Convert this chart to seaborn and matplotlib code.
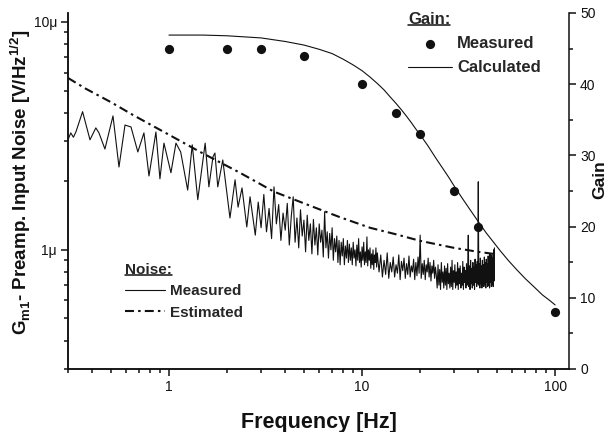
#!/usr/bin/env python3
# Gm1 preamp input noise (left, log) and gain (right, linear) vs frequency

import numpy as np
import pandas as pd
import seaborn as sns
import matplotlib.pyplot as plt
from matplotlib.lines import Line2D
from matplotlib.ticker import FuncFormatter, NullFormatter, MultipleLocator, LogLocator

# --- measured noise spectrum [uV/Hz^1/2] ---
# low-frequency part: turning points
NOISE_LOW_F = [0.30, 0.31, 0.32, 0.33, 0.357, 0.39, 0.418, 0.434, 0.466, 0.513,
               0.551, 0.592, 0.636, 0.69, 0.742, 0.788, 0.856, 0.898, 0.942, 1.024,
               1.087, 1.15, 1.25, 1.32, 1.41, 1.54, 1.61, 1.69, 1.73, 1.79,
               1.90, 2.07, 2.20, 2.28, 2.39, 2.53, 2.63]
NOISE_LOW_V = [3.04, 3.26, 3.12, 3.30, 4.04, 3.04, 3.43, 3.26, 2.77, 3.87,
               2.31, 3.53, 3.46, 2.69, 3.26, 2.11, 3.29, 2.05, 2.94, 2.18,
               2.94, 2.69, 1.83, 2.89, 1.66, 2.94, 1.89, 2.56, 2.66, 1.89,
               2.48, 1.38, 2.03, 1.54, 1.87, 1.26, 1.71]
# 2.7 .. 12.0 Hz, 0.1 Hz bins
NOISE_MID_START, NOISE_MID_STEP = 2.7, 0.1
NOISE_MID_V = [1.45, 1.16, 1.62, 1.25, 1.75, 1.20, 1.52, 1.12, 1.89, 1.30,
               1.58, 1.10, 1.45, 1.22, 1.60, 1.05, 1.40, 1.71, 1.08, 1.38,
               1.02, 1.50, 1.15, 1.35, 0.98, 1.42, 1.10, 1.30, 0.96, 1.36,
               1.05, 1.25, 0.95, 1.30, 1.08, 1.22, 0.93, 1.47, 1.02, 1.20,
               0.92, 1.18, 1.00, 1.25, 0.90, 1.12, 0.98, 1.15, 0.88, 1.10,
               0.86, 1.08, 0.94, 1.12, 0.86, 1.04, 0.92, 1.10, 0.88, 1.06,
               0.90, 1.02, 0.86, 1.08, 0.92, 1.00, 0.85, 1.05, 0.90, 1.12,
               0.88, 0.98, 0.84, 1.03, 0.90, 1.08, 0.86, 0.98, 0.88, 1.14,
               0.85, 1.00, 0.90, 1.02, 0.83, 0.96, 0.86, 1.00, 0.82, 0.95,
               0.88, 1.02, 0.84, 0.97]
# 12.25 .. 48.5 Hz, 0.25 Hz bins
NOISE_HIGH_START, NOISE_HIGH_STEP = 12.25, 0.25
NOISE_HIGH_V = [0.80, 0.95, 0.76, 0.90, 0.78, 0.97, 0.75, 0.88, 0.80, 0.93,
                0.76, 0.86, 0.79, 0.95, 0.74, 0.89, 0.81, 0.92, 0.75, 0.87,
                0.78, 0.94, 0.76, 0.85, 0.80, 0.91, 0.74, 0.88, 0.77, 0.93,
                0.79, 1.16, 0.75, 0.87, 0.78, 0.90, 0.74, 0.86, 0.80, 0.92,
                0.76, 0.88, 0.73, 0.85, 0.79, 0.90, 0.75, 0.84, 0.77,
                0.68, 0.86, 0.70, 0.82, 0.67, 0.88, 0.72, 0.80, 0.68, 0.85,
                0.70, 0.83, 0.67, 0.87, 0.71, 0.79, 0.68, 0.84, 0.69, 0.90,
                0.67, 0.81, 0.72, 0.86, 0.68, 0.80, 0.70, 0.88, 0.67, 0.83,
                0.71, 0.85, 0.68, 0.79, 0.70, 0.89, 0.67, 0.84, 0.72, 0.81,
                0.68, 0.87, 0.70, 0.82, 1.16, 0.69, 0.85, 0.67, 0.90, 0.71,
                0.83, 0.68, 0.88, 0.70, 0.84, 0.67, 0.91, 0.72, 0.86, 0.69,
                0.89, 0.71, 1.99, 0.70, 0.87, 0.68, 0.92, 0.71, 0.85, 0.68,
                0.90, 0.70, 0.86, 0.69, 0.93, 0.71, 0.88, 0.68, 0.91, 0.72,
                0.87, 0.69, 0.94, 0.70, 0.89, 0.68, 0.96, 0.72, 0.90, 0.69,
                0.95, 0.71, 0.92, 0.69, 1.00, 0.73, 1.02]

# --- estimated noise [uV/Hz^1/2] ---
EST_F = [0.3, 0.37, 0.5, 0.65, 1.0, 1.45, 2.33, 3.5, 5.0, 7.7, 11, 15, 20, 30, 40, 48]
EST_V = [5.68, 5.10, 4.45, 3.91, 3.20, 2.69, 2.18, 1.80, 1.60, 1.39, 1.25, 1.17, 1.095, 1.02, 0.98, 0.96]

# --- gain ---
GAIN_MEAS_F = [1, 2, 3, 5, 10, 15, 20, 30, 40, 100]
GAIN_MEAS = [45, 45, 45, 44, 40, 36, 33, 25, 20, 8]
GAIN_CALC_F = [1, 1.5, 2, 3, 4, 5, 6, 7, 8, 9, 10, 11, 12, 13, 14, 15, 16, 17, 18, 19,
               20, 22, 24, 26, 28, 30, 33, 36, 40, 44, 48, 52, 57, 63, 70, 78, 86, 94, 100]
GAIN_CALC = [46.9, 46.9, 46.8, 46.5, 46.0, 45.5, 44.9, 44.3, 43.5, 42.7, 41.9, 41.0, 40.1,
             39.2, 38.2, 37.3, 36.4, 35.5, 34.6, 33.7, 32.9, 31.3, 29.7, 28.3, 27.0, 25.7,
             24.0, 22.5, 20.7, 19.1, 17.8, 16.6, 15.3, 14.0, 12.7, 11.5, 10.4, 9.6, 9.0]

W, H = 616, 432
INK = "#111111"


def underline(fig, leg, renderer, off=2.0):
    bb = leg.get_title().get_window_extent(renderer)
    y = (bb.y0 + off) / H
    fig.add_artist(Line2D([bb.x0 / W, bb.x1 / W], [y, y], transform=fig.transFigure,
                          color=INK, lw=1.1))


def main():
    mid_f = np.round(NOISE_MID_START + NOISE_MID_STEP * np.arange(len(NOISE_MID_V)), 2)
    high_f = np.round(NOISE_HIGH_START + NOISE_HIGH_STEP * np.arange(len(NOISE_HIGH_V)), 2)
    noise = pd.DataFrame({
        "f": np.concatenate([NOISE_LOW_F, mid_f, high_f]),
        "v": np.concatenate([NOISE_LOW_V, NOISE_MID_V, NOISE_HIGH_V]),
    })
    est = pd.DataFrame({"f": EST_F, "v": EST_V})
    gmeas = pd.DataFrame({"f": GAIN_MEAS_F, "g": GAIN_MEAS})
    gcalc = pd.DataFrame({"f": GAIN_CALC_F, "g": GAIN_CALC})

    sns.set_theme(style="ticks")
    plt.rcParams["font.family"] = ["Liberation Sans", "DejaVu Sans"]
    plt.rcParams["mathtext.fontset"] = "custom"
    plt.rcParams["mathtext.rm"] = "Liberation Sans"
    plt.rcParams["mathtext.bf"] = "Liberation Sans:bold"

    fig = plt.figure(figsize=(W / 100, H / 100), dpi=100)
    ax = fig.add_axes([68 / W, 1 - 369 / H, (569 - 68) / W, (369 - 13) / H])
    ax2 = ax.twinx()

    # noise (left axis)
    sns.lineplot(data=noise, x="f", y="v", ax=ax, color=INK, lw=0.8,
                 estimator=None, sort=False, legend=False)
    h_noise = ax.lines[-1]
    sns.lineplot(data=est, x="f", y="v", ax=ax, color=INK, lw=1.5,
                 estimator=None, sort=False, legend=False)
    h_est = ax.lines[-1]
    h_est.set_linestyle((0, (4.3, 2.0, 1.2, 2.0)))

    # gain (right axis)
    sns.lineplot(data=gcalc, x="f", y="g", ax=ax2, color=INK, lw=0.8,
                 estimator=None, sort=False, legend=False)
    h_calc = ax2.lines[-1]
    sns.scatterplot(data=gmeas, x="f", y="g", ax=ax2, color=INK, s=44,
                    edgecolor=INK, linewidth=0, legend=False)
    h_meas = ax2.collections[-1]

    # axes
    ax.set_xscale("log")
    ax.set_yscale("log")
    ax.set_xlim(0.3, 118)
    ax.set_ylim(0.3, 10.95)
    ax2.set_ylim(0, 50)

    ax.xaxis.set_major_locator(LogLocator(base=10))
    ax.xaxis.set_minor_locator(LogLocator(base=10, subs=np.arange(2, 10)))
    ax.xaxis.set_major_formatter(FuncFormatter(lambda v, p: f"{v:g}"))
    ax.xaxis.set_minor_formatter(NullFormatter())
    ax.yaxis.set_major_locator(LogLocator(base=10))
    ax.yaxis.set_minor_locator(LogLocator(base=10, subs=np.arange(2, 10)))
    ax.yaxis.set_major_formatter(FuncFormatter(lambda v, p: f"{v:g}\u03bc"))
    ax.yaxis.set_minor_formatter(NullFormatter())
    ax2.yaxis.set_major_locator(MultipleLocator(10))
    ax2.yaxis.set_minor_locator(MultipleLocator(5))

    for a in (ax, ax2):
        a.spines["top"].set_visible(False)
        for s in ("left", "right", "bottom"):
            a.spines[s].set_linewidth(1.1)
            a.spines[s].set_color(INK)
        a.tick_params(which="major", length=5, width=1.1, direction="out",
                      labelsize=10, colors=INK, pad=3)
        a.tick_params(which="minor", length=3, width=1.1, direction="out", colors=INK)
    ax.tick_params(axis="y", which="both", right=False)
    ax2.tick_params(axis="y", which="both", left=False, right=True)
    ax.spines["right"].set_visible(False)

    ax.set_xlabel("Frequency [Hz]", fontsize=15.5, fontweight="bold", color=INK)
    ax.xaxis.set_label_coords(0.5, -0.12)
    ax.set_ylabel(r"G$_\mathbf{m1}$- Preamp. Input Noise [V/Hz$^\mathbf{1/2}$]",
                  fontsize=13.5, fontweight="bold", color=INK)
    ax.yaxis.set_label_coords(-0.07, 0.525)
    ax2.set_ylabel("Gain", fontsize=12.5, fontweight="bold", color=INK)
    ax2.yaxis.set_label_coords(1.046, 0.531)

    # legends
    leg_g = fig.legend([h_meas, h_calc], ["Measured", "Calculated"],
                       loc="upper left", bbox_to_anchor=(408 / W, 1 - 12 / H),
                       frameon=False, borderpad=0, borderaxespad=0,
                       handlelength=2.64, handletextpad=0.3,
                       labelspacing=0.55, title="Gain:", alignment="left",
                       prop={"weight": "bold", "size": 12},
                       title_fontproperties={"weight": "bold", "size": 12})
    leg_n = fig.legend([h_noise, h_est], ["Measured", "Estimated"],
                       loc="upper left", bbox_to_anchor=(125 / W, 1 - 263 / H),
                       frameon=False, borderpad=0, borderaxespad=0,
                       handlelength=2.6, handletextpad=0.33,
                       labelspacing=0.48, title="Noise:", alignment="left",
                       prop={"weight": "bold", "size": 11},
                       title_fontproperties={"weight": "bold", "size": 11})

    fig.canvas.draw()
    r = fig.canvas.get_renderer()
    underline(fig, leg_g, r)
    underline(fig, leg_n, r)

    fig.savefig("out.png", dpi=100)


if __name__ == "__main__":
    main()
